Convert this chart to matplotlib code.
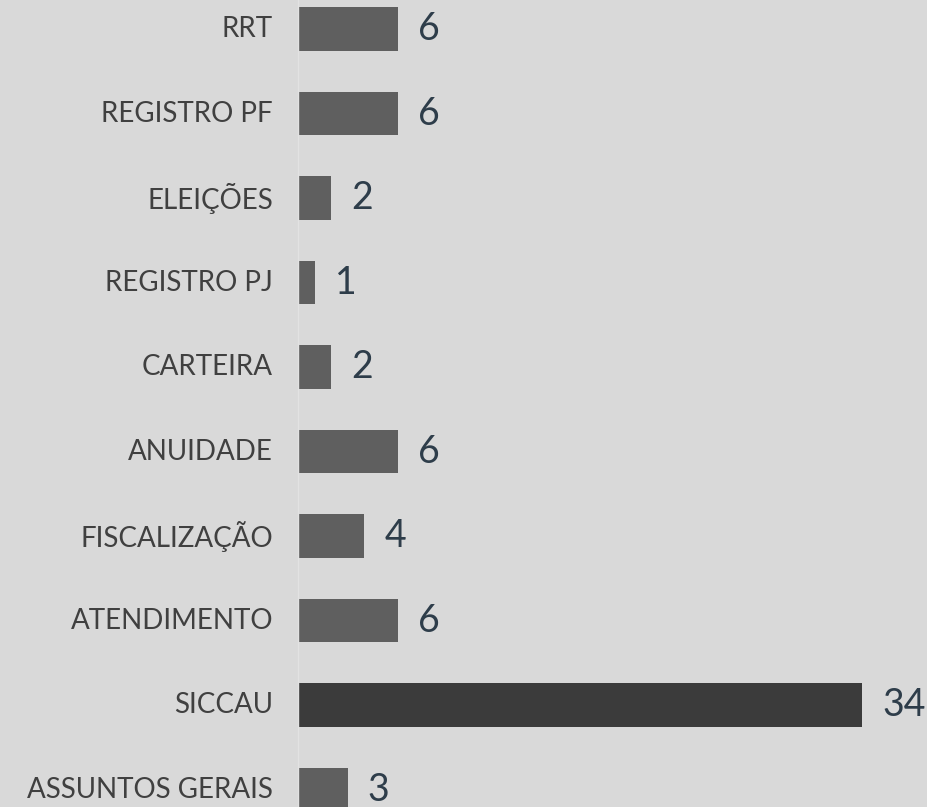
import matplotlib.pyplot as plt

# Dados
categorias = ["RRT", "REGISTRO PF", "ELEIÇÕES", "REGISTRO PJ", "CARTEIRA",
              "ANUIDADE", "FISCALIZAÇÃO", "ATENDIMENTO", "SICCAU", "ASSUNTOS GERAIS"]
valores = [6, 6, 2, 1, 2, 6, 4, 6, 34, 3]
destaque = "SICCAU"

plt.rcParams['font.family'] = ['Lato', 'DejaVu Sans']

fundo = '#d9d9d9'
fig = plt.figure(figsize=(9.27, 8.07), dpi=100, facecolor=fundo)
ax = fig.add_axes([298/927, 0, 1 - 298/927, 1])
ax.set_facecolor(fundo)

pos = list(range(len(categorias)))
cores = ['#3b3b3b' if c == destaque else '#5f5f5f' for c in categorias]
ax.barh(pos, valores, height=0.51, color=cores, left=0)

for y, v in zip(pos, valores):
    ax.text(v + 1.2, y, str(v), va='center', ha='left', fontsize=27,
            color='#2e3d4a')
for y, c in zip(pos, categorias):
    ax.text(-1.5, y, c, va='center', ha='right', fontsize=20,
            color='#404040')

ax.set_xlim(0, 629 / 16.6)
ax.set_ylim(9 + (807 - 789.5) / 84.5, -29 / 84.5)
ax.set_xticks([])
ax.set_yticks([])
for s in ['top', 'right', 'bottom']:
    ax.spines[s].set_visible(False)
ax.spines['left'].set_color('#e2e2e2')
ax.spines['left'].set_linewidth(1)

fig.savefig('out.png', dpi=100, facecolor=fundo)
